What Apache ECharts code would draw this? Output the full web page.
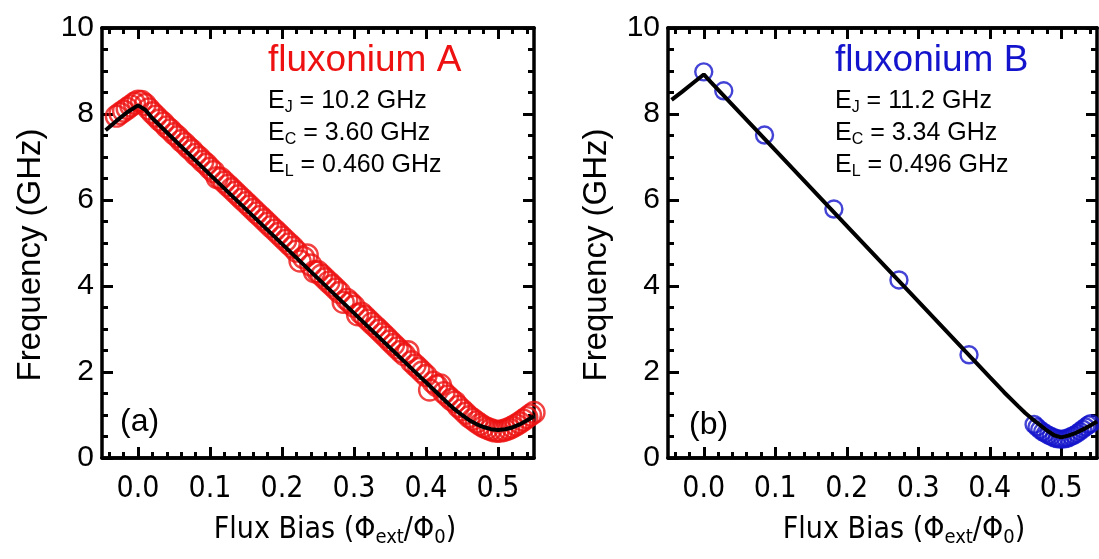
<!DOCTYPE html>
<html>
<head>
<meta charset="utf-8">
<script src="https://cdn.jsdelivr.net/npm/echarts@6/dist/echarts.min.js"></script>
<style>
html, body { margin: 0; padding: 0; background: #fff; }
#main { width: 1099px; height: 559px; }
</style>
</head>
<body>
<div id="main"></div>
<script>
// 刻度
var xMajor = [0, 0.1, 0.2, 0.3, 0.4, 0.5];
var xMinor = [-0.04, -0.02, 0.02, 0.04, 0.06, 0.08, 0.12, 0.14, 0.16, 0.18, 0.22, 0.24, 0.26, 0.28,
              0.32, 0.34, 0.36, 0.38, 0.42, 0.44, 0.46, 0.48, 0.52, 0.54];

// fluxonium A 测量点
var aFlux = [-0.030, -0.025, -0.020, -0.015, -0.010, -0.005, 0.000, 0.005, 0.010, 0.015, 0.020, 0.025,
             0.030, 0.035, 0.040, 0.045, 0.050, 0.055, 0.060, 0.065, 0.070, 0.075, 0.080, 0.085,
             0.090, 0.095, 0.100, 0.105, 0.110, 0.115, 0.120, 0.125, 0.130, 0.135, 0.140, 0.145,
             0.150, 0.155, 0.160, 0.165, 0.170, 0.175, 0.180, 0.185, 0.190, 0.195, 0.200, 0.205,
             0.210, 0.215, 0.220, 0.225, 0.230, 0.235, 0.240, 0.245, 0.250, 0.255, 0.260, 0.265,
             0.270, 0.275, 0.280, 0.285, 0.290, 0.295, 0.300, 0.305, 0.310, 0.315, 0.320, 0.325,
             0.330, 0.335, 0.340, 0.345, 0.350, 0.355, 0.360, 0.365, 0.370, 0.375, 0.380, 0.385,
             0.390, 0.395, 0.400, 0.405, 0.410, 0.415, 0.420, 0.425, 0.430, 0.435, 0.440, 0.445,
             0.450, 0.455, 0.460, 0.465, 0.470, 0.475, 0.480, 0.485, 0.490, 0.495, 0.500, 0.505,
             0.510, 0.515, 0.520, 0.525, 0.530, 0.535, 0.540, 0.545, 0.550];
var aFreq = [7.95, 8.01, 8.07, 8.13, 8.19, 8.25, 8.30, 8.29, 8.22, 8.12, 8.03, 7.95,
             7.86, 7.79, 7.70, 7.63, 7.54, 7.47, 7.38, 7.31, 7.22, 7.15, 7.06, 6.99,
             6.90, 6.83, 6.74, 6.66, 6.52, 6.50, 6.42, 6.34, 6.26, 6.18, 6.10, 6.02,
             5.94, 5.86, 5.78, 5.70, 5.62, 5.54, 5.46, 5.38, 5.30, 5.22, 5.14, 5.06,
             4.98, 4.90, 4.81, 4.58, 4.66, 4.72, 4.49, 4.33, 4.33, 4.25, 4.17, 4.09,
             4.01, 3.93, 3.85, 3.62, 3.69, 3.61, 3.53, 3.33, 3.37, 3.29, 3.21, 3.13,
             3.05, 2.97, 2.89, 2.81, 2.72, 2.64, 2.56, 2.48, 2.40, 2.47, 2.24, 2.16,
             2.08, 2.00, 1.92, 1.58, 1.76, 1.68, 1.70, 1.52, 1.44, 1.36, 1.30, 1.20,
             1.12, 1.04, 0.96, 0.90, 0.84, 0.78, 0.73, 0.69, 0.66, 0.63, 0.62, 0.63,
             0.65, 0.68, 0.72, 0.77, 0.82, 0.88, 0.94, 1.00, 1.06];

// fluxonium A 拟合曲线
var aFitFlux = [-0.045, -0.03, -0.015, 0, 0.01, 0.02, 0.1, 0.2, 0.3, 0.4, 0.43, 0.44, 0.45, 0.46,
                0.47, 0.48, 0.49, 0.5, 0.51, 0.52, 0.53, 0.54, 0.55];
var aFitFreq = [7.62, 7.84, 8.04, 8.2, 8.1, 7.9, 6.59, 4.98, 3.37, 1.76, 1.28, 1.13, 1.0, 0.88,
                0.79, 0.72, 0.67, 0.65, 0.67, 0.71, 0.78, 0.87, 0.97];

// fluxonium B 测量点
var bFlux = [0.000, 0.028, 0.085, 0.182, 0.273, 0.371,
             0.462, 0.466, 0.470, 0.474, 0.478, 0.482, 0.486, 0.490, 0.494, 0.498, 0.502,
             0.506, 0.510, 0.514, 0.518, 0.522, 0.526, 0.530, 0.534, 0.538, 0.541];
var bFreq = [8.98, 8.54, 7.51, 5.79, 4.14, 2.40,
             0.78, 0.72, 0.66, 0.61, 0.57, 0.53, 0.50, 0.47, 0.45, 0.44, 0.44,
             0.45, 0.47, 0.50, 0.53, 0.57, 0.62, 0.67, 0.72, 0.77, 0.80];

// fluxonium B 拟合曲线
var bFitFlux = [-0.045, -0.03, -0.015, 0, 0.01, 0.05, 0.1, 0.2, 0.3, 0.4, 0.42, 0.44, 0.45, 0.46,
                0.47, 0.48, 0.49, 0.5, 0.51, 0.52, 0.53, 0.54, 0.55];
var bFitFreq = [8.33, 8.52, 8.72, 8.92, 8.74, 8.04, 7.16, 5.40, 3.64, 1.88, 1.53, 1.20, 1.04, 0.90,
                0.77, 0.64, 0.53, 0.48, 0.52, 0.58, 0.66, 0.75, 0.85];

function zip(xs, ys) {
    return xs.map(function (x, i) { return [x, ys[i]]; });
}

var black = '#000';
var red = '#ee1111';
var blue = '#1414cc';
var bodyFont = 'Liberation Sans, Arial, sans-serif';
var narrowFont = 'Liberation Sans Narrow, DejaVu Sans Condensed, Liberation Sans, sans-serif';

var subRich = {
    n: { fontSize: 25, lineHeight: 30, fontFamily: bodyFont, color: black },
    s: { fontSize: 16, lineHeight: 16, verticalAlign: 'bottom', fontFamily: bodyFont, color: black }
};
var titleRich = {
    n: { fontSize: 30, lineHeight: 36, fontFamily: narrowFont, color: black },
    s: { fontSize: 20, lineHeight: 20, verticalAlign: 'bottom', fontFamily: narrowFont, color: black }
};
var xTitle = '{n|Flux Bias (Φ}{s|ext}{n|/Φ}{s|0}{n|)}';

// 一条x轴 (pos: bottom/top, ticks: 刻度位置, shift: 轴标题右移)
function xAx(g, pos, ticks, len, labels, shift) {
    var a = { gridIndex: g, type: 'value', min: -0.05, max: 0.55, position: pos, splitLine: { show: false },
        axisLine: { show: true, onZero: false, lineStyle: { color: black, width: 3.5 } },
        axisTick: { show: true, inside: true, length: len, customValues: ticks, lineStyle: { color: black, width: 3 } },
        axisLabel: { show: labels, customValues: ticks, margin: 16, color: black, fontSize: 30, fontFamily: narrowFont,
            formatter: function (v) { return v.toFixed(1); } } };
    if (labels) {
        a.name = xTitle;
        a.nameLocation = 'middle';
        a.nameGap = 54;
        a.nameTextStyle = { rich: titleRich, padding: [0, 0, 0, shift] };
    }
    return a;
}

function yAx(g, pos, labels) {
    var a = { gridIndex: g, type: 'value', min: 0, max: 10, interval: 2, position: pos, splitLine: { show: false },
        axisLine: { show: true, onZero: false, lineStyle: { color: black, width: 3.5 } },
        axisTick: { show: true, inside: true, length: 11, lineStyle: { color: black, width: 3 } },
        minorTick: { show: true, splitNumber: 4, length: 6, lineStyle: { color: black, width: 3 } },
        axisLabel: { show: labels, margin: 8, color: black, fontSize: 30, fontFamily: bodyFont } };
    if (labels) {
        a.name = 'Frequency (GHz)';
        a.nameLocation = 'middle';
        a.nameRotate = 90;
        a.nameGap = 54;
        a.nameTextStyle = { color: black, fontSize: 33, lineHeight: 34, fontFamily: bodyFont, padding: [0, 24, 0, 0] };
    }
    return a;
}

function label(left, top, text, style) {
    return { left: left, top: top, padding: 0, text: text,
        textStyle: Object.assign({ color: black, fontWeight: 'normal', fontFamily: bodyFont }, style) };
}

function panelText(x0, name, color, ej, ec, el) {
    return [
        label(x0, 42, name, { color: color, fontSize: 37, lineHeight: 37 }),
        label(x0, 86, '{n|E}{s|J}{n| = ' + ej + '}', { rich: subRich }),
        label(x0, 118, '{n|E}{s|C}{n| = ' + ec + '}', { rich: subRich }),
        label(x0, 150, '{n|E}{s|L}{n| = ' + el + '}', { rich: subRich })
    ];
}

var titles = [].concat(
    panelText(268, 'fluxonium A', red, '10.2 GHz', '3.60 GHz', '0.460 GHz'),
    panelText(835, 'fluxonium B', blue, '11.2 GHz', '3.34 GHz', '0.496 GHz'),
    [
        label(120, 406, '(a)', { fontSize: 32, lineHeight: 32 }),
        label(689, 409, '(b)', { fontSize: 32, lineHeight: 32 })
    ]
);

var myChart = echarts.init(document.getElementById('main'));

var option = {
    animation: false,
    title: titles,
    grid: [
        { left: 102, top: 28, width: 432, height: 430 },
        { left: 668, top: 28, width: 429, height: 430 }
    ],
    xAxis: [
        xAx(0, 'bottom', xMajor, 11, true, 34), xAx(0, 'bottom', xMinor, 6, false),
        xAx(0, 'top', xMajor, 11, false), xAx(0, 'top', xMinor, 6, false),
        xAx(1, 'bottom', xMajor, 11, true, 43), xAx(1, 'bottom', xMinor, 6, false),
        xAx(1, 'top', xMajor, 11, false), xAx(1, 'top', xMinor, 6, false)
    ],
    yAxis: [yAx(0, 'left', true), yAx(0, 'right', false), yAx(1, 'left', true), yAx(1, 'right', false)],
    series: [
        { type: 'scatter', xAxisIndex: 0, yAxisIndex: 0, data: zip(aFlux, aFreq),
          symbol: 'circle', symbolSize: 21,
          itemStyle: { color: 'rgba(0,0,0,0)', borderColor: red, borderWidth: 2.4 } },
        { type: 'line', xAxisIndex: 0, yAxisIndex: 0, data: zip(aFitFlux, aFitFreq),
          showSymbol: false, lineStyle: { color: black, width: 4 } },
        { type: 'scatter', xAxisIndex: 4, yAxisIndex: 2, data: zip(bFlux, bFreq),
          symbol: 'circle', symbolSize: 17,
          itemStyle: { color: 'rgba(0,0,0,0)', borderColor: blue, borderWidth: 2.4 } },
        { type: 'line', xAxisIndex: 4, yAxisIndex: 2, data: zip(bFitFlux, bFitFreq),
          showSymbol: false, lineStyle: { color: black, width: 4 } }
    ]
};

myChart.setOption(option);
</script>
</body>
</html>
